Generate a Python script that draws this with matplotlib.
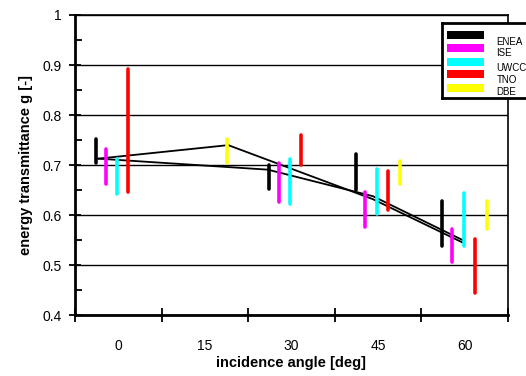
import numpy as np
import matplotlib
matplotlib.use('Agg')
import matplotlib.pyplot as plt
from matplotlib.ticker import MultipleLocator, FixedLocator, NullFormatter

plt.rcParams['font.family'] = ['Liberation Sans', 'DejaVu Sans']

nan = np.nan
angles = [0, 15, 30, 45, 60]
labs = ['ENEA', 'ISE', 'UWCC', 'TNO', 'DBE']
colors = ['#000000', '#ff00ff', '#00ffff', '#ff0000', '#ffff00']

# lower / upper ends of the measured range per lab and angle
g_low = {
    'ENEA': [0.705, nan, 0.653, 0.650, 0.538],
    'ISE':  [0.662, nan, 0.627, 0.577, 0.507],
    'UWCC': [0.643, nan, 0.623, 0.602, 0.538],
    'TNO':  [0.646, nan, 0.700, 0.611, 0.445],
    'DBE':  [nan, 0.705, nan, 0.662, 0.573],
}
g_high = {
    'ENEA': [0.753, nan, 0.700, 0.723, 0.629],
    'ISE':  [0.733, nan, 0.705, 0.647, 0.572],
    'UWCC': [0.713, nan, 0.712, 0.692, 0.645],
    'TNO':  [0.893, nan, 0.760, 0.689, 0.552],
    'DBE':  [nan, 0.753, nan, 0.709, 0.628],
}

# two calculated curves
calc1_x = [-3.46, 19.04, 44.1, 59.7]
calc1_y = [0.713, 0.740, 0.632, 0.545]
calc2_x = [-3.46, 25.9, 44.1, 59.7]
calc2_y = [0.713, 0.691, 0.638, 0.550]

offsets = [-3.9, -2.2, -0.2, 1.7, 3.8]

fig = plt.figure(figsize=(5.26, 3.76), dpi=100)
ax = fig.add_axes([75 / 526, 1 - 315.3 / 376, 433 / 526, 300.3 / 376])

ax.plot(calc1_x, calc1_y, c='k', lw=1.3, zorder=3)
ax.plot(calc2_x, calc2_y, c='k', lw=1.3, zorder=3)

for lab, col, off in zip(labs, colors, offsets):
    x = np.array(angles) + off
    ax.vlines(x, g_low[lab], g_high[lab], colors=col, lw=2.6, zorder=4,
              capstyle='round')

ax.set_xlim(-7.5, 67.5)
ax.set_ylim(0.4, 1.0)

ax.yaxis.set_minor_locator(MultipleLocator(0.05))
ax.set_yticks([0.4, 0.5, 0.6, 0.7, 0.8, 0.9, 1.0])
ax.set_yticklabels(['0.4', '0.5', '0.6', '0.7', '0.8', '0.9', '1'])
ax.tick_params(axis='y', which='major', direction='inout', length=9, width=1.3,
               labelsize=10, pad=5)
ax.tick_params(axis='y', which='minor', direction='in', length=5, width=1.3)
ax.grid(axis='y', which='major', c='k', lw=1.0)

ax.xaxis.set_major_locator(FixedLocator([-7.5, 7.5, 22.5, 37.5, 52.5, 67.5]))
ax.xaxis.set_major_formatter(NullFormatter())
ax.xaxis.set_minor_locator(FixedLocator(angles))
ax.set_xticklabels([str(a) for a in angles], minor=True)
ax.tick_params(axis='x', which='major', direction='inout', length=10, width=1.3)
ax.tick_params(axis='x', which='minor', length=0, labelsize=10, pad=17)

ax.spines['left'].set_linewidth(2)
ax.spines['bottom'].set_linewidth(2)
ax.spines['top'].set_linewidth(1.2)
ax.spines['right'].set_linewidth(1.2)
ax.set_axisbelow(True)

ax.set_xlabel('incidence angle [deg]', fontsize=10.5, fontweight='bold', labelpad=2)
ax.set_ylabel('energy transmittance g [-]', fontsize=10.5, fontweight='bold', labelpad=7)

# legend box, its right side runs past the figure edge as in the original
lg = fig.add_axes([442 / 526, 1 - 98 / 376, 100 / 526, 75 / 376])
lg.set_xlim(0, 100)
lg.set_ylim(0, 1)
lg.set_xticks([])
lg.set_yticks([])
for s in lg.spines.values():
    s.set_linewidth(2)
sw_y = [0.84, 0.663, 0.484, 0.32, 0.137]
tx_y = [0.751, 0.596, 0.396, 0.24, 0.084]
for lab, col, sy, ty in zip(labs, colors, sw_y, tx_y):
    lg.fill_between([4.7, 42], sy - 0.053, sy + 0.053, color=col, lw=0)
    lg.text(54.5, ty, lab, fontsize=7, va='center', ha='left', clip_on=True)

fig.savefig('out.png', dpi=100)
